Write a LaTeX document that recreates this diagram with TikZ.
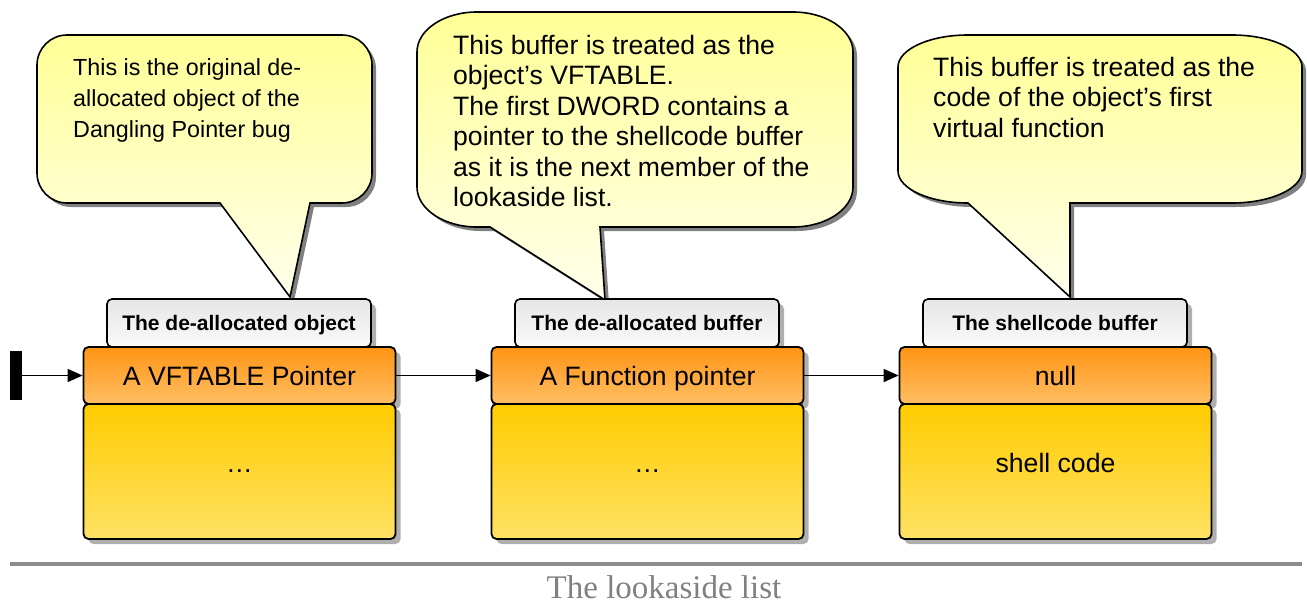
\documentclass[tikz,border=0pt]{standalone}
\usepackage{fontspec}
\setmainfont{Liberation Sans}
\newfontfamily\capfont{Liberation Serif}
\usetikzlibrary{shadows,arrows.meta}
\definecolor{shadowgray}{RGB}{175,175,175}
\definecolor{bubshadow}{RGB}{128,128,128}
\definecolor{bubtop}{RGB}{255,255,150}
\definecolor{bubbot}{RGB}{255,255,236}
\definecolor{ortop}{RGB}{255,148,20}
\definecolor{orbot}{RGB}{255,190,100}
\definecolor{yetop}{RGB}{255,204,0}
\definecolor{yebot}{RGB}{255,225,100}
\definecolor{tabtop}{RGB}{230,230,230}
\definecolor{tabbot}{RGB}{250,250,250}
\definecolor{capgray}{RGB}{128,128,128}
\definecolor{linegray}{RGB}{140,140,140}
% L R T B rx ry bl br tip
\newcommand{\bubblepath}[9]{(#7,#4) -- (#9) -- (#8,#4) -- ({#2-#5},#4)
 .. controls ({#2-0.448*#5},#4) and (#2,{#4-0.448*#6}) .. (#2,{#4-#6})
 -- (#2,{#3+#6}) .. controls (#2,{#3+0.448*#6}) and ({#2-0.448*#5},#3) .. ({#2-#5},#3)
 -- ({#1+#5},#3) .. controls ({#1+0.448*#5},#3) and (#1,{#3+0.448*#6}) .. (#1,{#3+#6})
 -- (#1,{#4-#6}) .. controls (#1,{#4-0.448*#6}) and ({#1+0.448*#5},#4) .. ({#1+#5},#4) -- cycle}
\begin{document}
\begin{tikzpicture}[x=1pt,y=-1pt,
  boxshadow/.style={drop shadow={shadow xshift=5pt,shadow yshift=-5pt,fill=shadowgray,opacity=1}},
  tabbox/.style={draw=black,line width=1.6pt,rounded corners=5pt,minimum width=264pt,minimum height=48pt,inner sep=0pt,
    top color=tabtop,bottom color=tabbot,boxshadow,font=\bfseries\fontsize{21}{21}\selectfont,text height=15pt,text depth=0pt},
  ptrbox/.style={draw=black,line width=1.8pt,rounded corners=5pt,minimum width=312pt,minimum height=57pt,inner sep=0pt,
    top color=ortop,bottom color=orbot,boxshadow,font=\fontsize{26.6}{30}\selectfont,text height=19pt,text depth=0pt},
  bodybox/.style={draw=black,line width=1.8pt,rounded corners=5pt,minimum width=312pt,minimum height=135pt,inner sep=0pt,
    top color=yetop,bottom color=yebot,boxshadow,font=\fontsize{26.6}{30}\selectfont,text height=10pt,text depth=9pt},
  bubble/.style={draw=black,line width=1.6pt,top color=bubtop,bottom color=bubbot},
  bubshade/.style={fill=bubshadow,shift={(4,4)}},
  bubtext/.style={anchor=north west,inner sep=0pt,align=left},
  link/.style={line width=1.5pt,-{Triangle[length=15pt,width=13pt]}}
]
\useasboundingbox (0,0) rectangle (1307,603);

% callouts
\fill[bubshade] \bubblepath{37}{372}{35}{203}{30}{30}{220}{310}{290,297};
\path[bubble] \bubblepath{37}{372}{35}{203}{30}{30}{220}{310}{290,297};
\fill[bubshade] \bubblepath{417}{853}{12}{227}{60}{40}{490}{600}{605,300};
\path[bubble] \bubblepath{417}{853}{12}{227}{60}{40}{490}{600}{605,300};
\fill[bubshade] \bubblepath{898}{1302}{35}{203}{70}{32}{968}{1070}{1070,297};
\path[bubble] \bubblepath{898}{1302}{35}{203}{70}{32}{968}{1070}{1070,297};

\node[bubtext,font=\fontsize{23.3}{31}\selectfont] (c1) at (73,58)
  {This is the original de-\\allocated object of the\\Dangling Pointer bug};
\node[bubtext,font=\fontsize{26.6}{30.4}\selectfont] (c2) at (453,35)
  {This buffer is treated as the\\object’s VFTABLE.\\The first DWORD contains a\\pointer to the shellcode buffer\\as it is the next member of the\\lookaside list.};
\node[bubtext,font=\fontsize{26.6}{30.5}\selectfont] (c3) at (933,57)
  {This buffer is treated as the\\code of the object’s first\\virtual function};

% tabs
\node[tabbox] (t1) at (239,323) {The de-allocated object};
\node[tabbox] (t2) at (647,323) {The de-allocated buffer};
\node[tabbox] (t3) at (1055,323) {The shellcode buffer};

% pointer boxes
\node[ptrbox] (p1) at (239.5,375.5) {A VFTABLE Pointer};
\node[ptrbox] (p2) at (647.5,375.5) {A Function pointer};
\node[ptrbox] (p3) at (1055.5,375.5) {null};

% body boxes
\node[bodybox] (d1) at (239.5,471.5) {…};
\node[bodybox] (d2) at (647.5,471.5) {…};
\node[bodybox] (d3) at (1055.5,471.5) {shell code};

% list head bar and links
\node[fill=black,minimum width=12pt,minimum height=49pt,inner sep=0pt] (bar) at (16,375.5) {};
\draw[link] (bar.east) -- (p1.west);
\draw[link] (p1.east) -- (p2.west);
\draw[link] (p2.east) -- (p3.west);

% bottom rule and caption
\draw[line width=4pt,linegray] (10,564) -- (1302,564);
\node[anchor=base,inner sep=0pt,text=capgray,font=\capfont\fontsize{33}{33}\selectfont] (cap) at (664,598) {The lookaside list};
\end{tikzpicture}
\end{document}
